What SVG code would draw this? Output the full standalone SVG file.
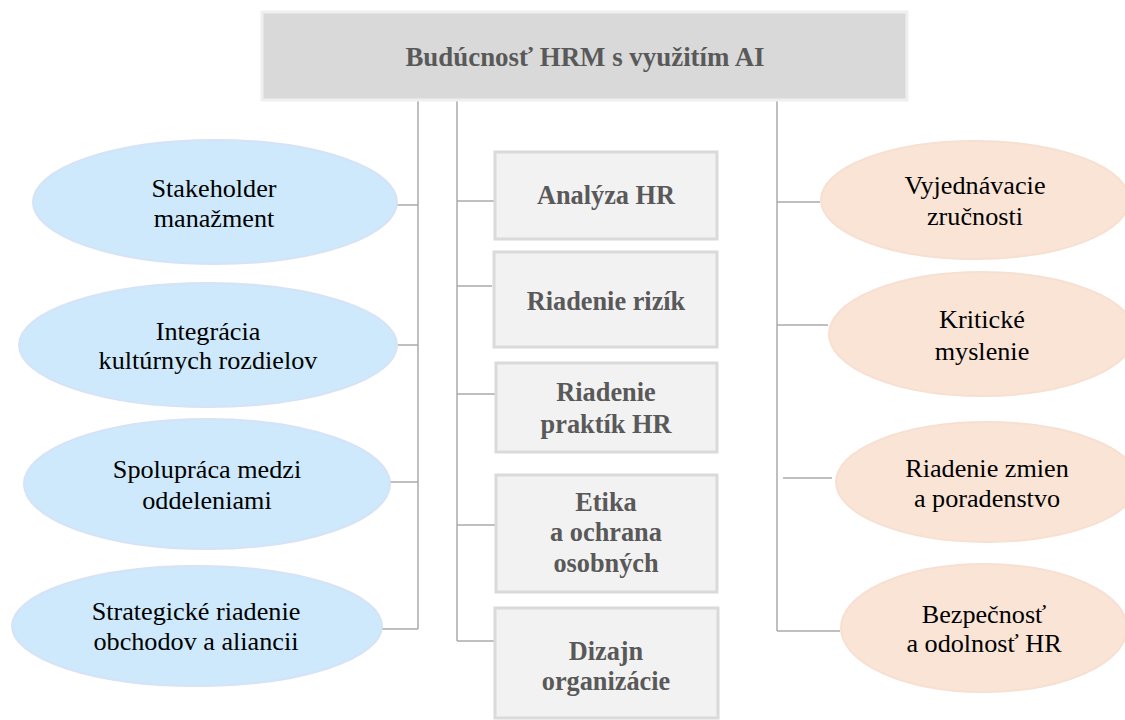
<svg xmlns="http://www.w3.org/2000/svg" width="1125" height="720" viewBox="0 0 1125 720">
<style>
.conn{stroke:#ababab;stroke-width:1.5;fill:none}
.box{fill:#f2f2f2;stroke:#dadada;stroke-width:3}
.title{fill:#d9d9d9;stroke:#efefef;stroke-width:3}
.blue{fill:#cde9fb;stroke:#d6e2f5;stroke-width:2}
.peach{fill:#fae4d6;stroke:#f7e0d2;stroke-width:2}
</style>
<rect width="1125" height="720" fill="#fff"/>
<g id="connectors">
<path class="conn" d="M418,100V629M388,205H418M398,345H418M387,482H418M380,629H418"/>
<path class="conn" d="M457,100V641M457,201H494M457,286H492M457,394H495M457,525H495M457,641H494"/>
<path class="conn" d="M777,100V631M777,202H820M777,325H828M783,478H832M777,631H840"/>
</g>
<g font-family="Liberation Serif, Times New Roman, serif" font-weight="bold" font-size="26.3" fill="#595959" text-anchor="middle">
<g id="title">
<rect class="title" x="262" y="12" width="645" height="88"/>
<text x="585" y="66" font-size="26.9">Budúcnosť HRM s využitím AI</text>
</g>
<g id="analyza"><rect class="box" x="495" y="152" width="222" height="87"/><text x="606" y="204">Analýza HR</text></g>
<g id="rizika"><rect class="box" x="494" y="252" width="223" height="95"/><text x="606" y="310">Riadenie rizík</text></g>
<g id="praktiky"><rect class="box" x="496" y="363" width="221" height="89"/><text x="606" y="401">Riadenie</text><text x="606" y="433">praktík HR</text></g>
<g id="etika"><rect class="box" x="496" y="475" width="221" height="117"/><text x="606" y="511">Etika</text><text x="606" y="541">a ochrana</text><text x="606" y="572">osobných</text></g>
<g id="dizajn"><rect class="box" x="495" y="608" width="223" height="110"/><text x="606" y="660">Dizajn</text><text x="606" y="690">organizácie</text></g>
</g>
<g font-family="Liberation Serif, Times New Roman, serif" font-size="26.2" fill="#000" text-anchor="middle">
<g id="stakeholder"><ellipse class="blue" cx="215" cy="202" rx="182" ry="62"/><text x="214" y="197">Stakeholder</text><text x="214" y="227">manažment</text></g>
<g id="integracia"><ellipse class="blue" cx="208" cy="345" rx="189" ry="62"/><text x="208" y="340">Integrácia</text><text x="208" y="369">kultúrnych rozdielov</text></g>
<g id="spolupraca"><ellipse class="blue" cx="207" cy="484" rx="183" ry="65"/><text x="207" y="478">Spolupráca medzi</text><text x="207" y="509">oddeleniami</text></g>
<g id="strategicke"><ellipse class="blue" cx="197" cy="626" rx="185" ry="60"/><text x="196" y="620">Strategické riadenie</text><text x="196" y="650">obchodov a aliancii</text></g>
<g id="vyjednavacie"><ellipse class="peach" cx="975" cy="200" rx="154" ry="59"/><text x="975" y="194">Vyjednávacie</text><text x="975" y="225">zručnosti</text></g>
<g id="kriticke"><ellipse class="peach" cx="982" cy="334" rx="153" ry="62"/><text x="982" y="328">Kritické</text><text x="982" y="360">myslenie</text></g>
<g id="zmeny"><ellipse class="peach" cx="987" cy="482" rx="151" ry="60"/><text x="987" y="477">Riadenie zmien</text><text x="987" y="507">a poradenstvo</text></g>
<g id="bezpecnost"><ellipse class="peach" cx="984" cy="628" rx="143" ry="64"/><text x="984" y="623">Bezpečnosť</text><text x="984" y="652">a odolnosť HR</text></g>
</g>
</svg>
